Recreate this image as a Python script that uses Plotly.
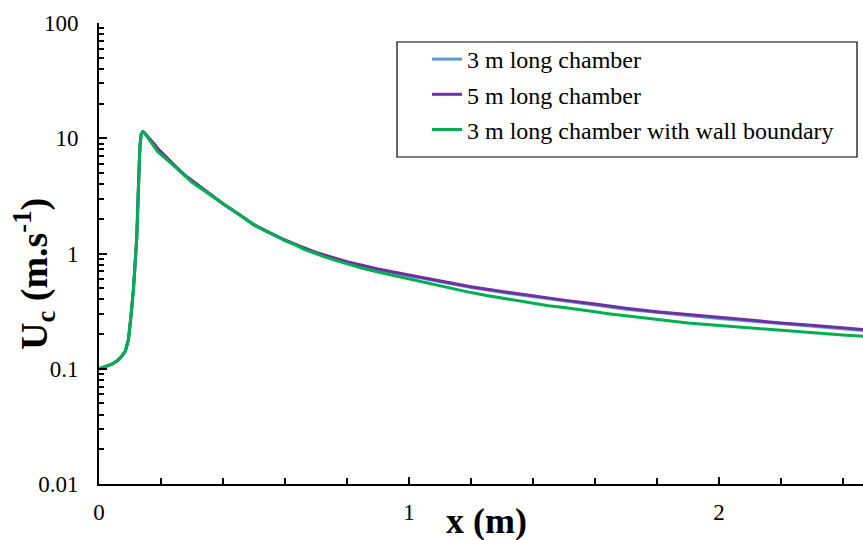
import plotly.graph_objects as go

# ---- data ----
x_main = [0, 0.02, 0.04, 0.06, 0.075, 0.085, 0.095, 0.103, 0.111, 0.118, 0.122, 0.127, 0.132,
          0.136, 0.141, 0.146, 0.15, 0.16, 0.17, 0.18, 0.19, 0.202, 0.22, 0.25, 0.28, 0.31,
          0.35, 0.40, 0.45, 0.50, 0.55, 0.60, 0.65, 0.70, 0.80, 0.90, 1.00, 1.10, 1.20, 1.30,
          1.40, 1.50, 1.60, 1.70, 1.80, 1.90, 2.00, 2.10, 2.20, 2.30, 2.40, 2.47]

u_5m = [0.100, 0.104, 0.109, 0.118, 0.130, 0.142, 0.179, 0.285, 0.486, 0.95, 1.4, 3.6, 8.5,
        10.8, 11.4, 11.2, 10.9, 10.2, 9.5, 8.8, 8.1, 7.5, 6.7, 5.6, 4.7, 4.1,
        3.4, 2.7, 2.2, 1.78, 1.52, 1.31, 1.15, 1.02, 0.85, 0.735, 0.65, 0.575, 0.515, 0.468,
        0.428, 0.394, 0.364, 0.335, 0.313, 0.295, 0.279, 0.264, 0.250, 0.238, 0.226, 0.218]

u_3m = [0.100, 0.104, 0.109, 0.118, 0.130, 0.142, 0.179, 0.285, 0.486, 0.95, 1.4, 3.6, 8.5,
        10.8, 11.4, 11.2, 10.9, 10.2, 9.5, 8.8, 8.1, 7.5, 6.7, 5.6, 4.7, 4.1,
        3.4, 2.7, 2.2, 1.77, 1.51, 1.30, 1.14, 1.01, 0.84, 0.725, 0.64, 0.566, 0.507, 0.460,
        0.421, 0.387, 0.357, 0.329, 0.307, 0.289, 0.273, 0.259, 0.245, 0.233, 0.222, 0.214]

x_wall = [0, 0.02, 0.04, 0.06, 0.075, 0.085, 0.095, 0.103, 0.111, 0.118, 0.122, 0.127, 0.132,
          0.136, 0.141, 0.146, 0.15, 0.16, 0.17, 0.18, 0.19, 0.20, 0.21, 0.22, 0.25, 0.28,
          0.30, 0.33, 0.36, 0.40, 0.43, 0.46, 0.50, 0.53, 0.56, 0.60, 0.63, 0.66, 0.70, 0.73,
          0.76, 0.80, 0.85, 0.90, 0.95, 1.00, 1.05, 1.10, 1.15, 1.20, 1.25, 1.30, 1.35, 1.40,
          1.45, 1.50, 1.55, 1.60, 1.65, 1.70, 1.75, 1.80, 1.85, 1.90, 1.95, 2.00, 2.05, 2.10,
          2.15, 2.20, 2.25, 2.30, 2.35, 2.40, 2.47]

u_wall = [0.100, 0.104, 0.109, 0.118, 0.130, 0.142, 0.179, 0.285, 0.486, 0.95, 1.4, 3.6, 8.5,
          10.8, 11.4, 11.2, 10.8, 10.0, 9.1, 8.3, 7.6, 7.2, 6.9, 6.5, 5.5, 4.65,
          4.15, 3.65, 3.2, 2.68, 2.38, 2.1, 1.77, 1.6, 1.47, 1.29, 1.2, 1.09, 0.99, 0.93,
          0.875, 0.81, 0.745, 0.69, 0.645, 0.60, 0.56, 0.522, 0.485, 0.458, 0.432, 0.410, 0.388, 0.373,
          0.352, 0.340, 0.324, 0.312, 0.299, 0.288, 0.276, 0.266, 0.258, 0.250, 0.243, 0.237, 0.230, 0.225,
          0.219, 0.214, 0.209, 0.205, 0.200, 0.196, 0.191]

y_tickvals = [0.01, 0.1, 1, 10, 100]
y_ticktext = ["0.01", "0.1", "1", "10", "100"]
x_tickvals = [0, 1, 2]
x_ticktext = ["0", "1", "2"]

names = ["3 m long chamber", "5 m long chamber", "3 m long chamber with wall boundary"]
colors = ["#5B9BD5", "#7030A0", "#00B050"]
x_title = "<b>x (m)</b>"
y_title = "<b>U<sub>c</sub> (m.s<sup>-1</sup>)</b>"

FONT = "Liberation Serif"

fig = go.Figure()
for i, (xs, ys) in enumerate([(x_main, u_3m), (x_main, u_5m), (x_wall, u_wall)]):
    fig.add_trace(go.Scatter(x=xs, y=ys, mode="lines", name=names[i],
                             legendgroup=f"g{i}",
                             line=dict(color=colors[i], width=3)))

# legend frame (drawn as a shape so its padding matches the reference)
fig.add_shape(type="rect", xref="paper", yref="paper",
              x0=(397 - 99) / 764, x1=(857 - 99) / 764,
              y0=(484 - 157) / 461, y1=(484 - 42) / 461,
              line=dict(color="black", width=1.2), fillcolor="white", layer="below")

fig.add_annotation(text=x_title, xref="paper", yref="paper",
                   x=(486.5 - 99) / 764, y=(484 - 521) / 461,
                   xanchor="center", yanchor="middle", showarrow=False,
                   font=dict(family=FONT, size=36, color="black"))
fig.add_annotation(text=y_title, xref="paper", yref="paper",
                   x=(34 - 99) / 764, y=(484 - 274) / 461, textangle=-90,
                   xanchor="center", yanchor="middle", showarrow=False,
                   font=dict(family=FONT, size=38, color="black"))

fig.update_layout(
    width=863, height=540,
    margin=dict(l=99, r=0, t=23, b=56),
    paper_bgcolor="white", plot_bgcolor="white",
    font=dict(family=FONT, size=23, color="black"),
    showlegend=True,
    legend=dict(x=(427 - 99) / 764, y=(484 - 37) / 461, xanchor="left", yanchor="top",
                borderwidth=0, bgcolor="rgba(0,0,0,0)",
                font=dict(family=FONT, size=24, color="black"),
                tracegroupgap=1),
    xaxis=dict(range=[0, 2.4645], showgrid=False, zeroline=False, automargin=False,
               showline=True, linecolor="black", linewidth=2,
               tickmode="array", tickvals=x_tickvals, ticktext=x_ticktext,
               ticks="inside", ticklen=7, tickwidth=1.5, tickcolor="black",
               ticklabelstandoff=6,
               minor=dict(ticks="inside", ticklen=6, tickwidth=1.5, tickcolor="black",
                          dtick=0.2, tick0=0, showgrid=False),
               tickfont=dict(family=FONT, size=23)),
    yaxis=dict(type="log", range=[-2, 2], showgrid=False, zeroline=False, automargin=False,
               showline=True, linecolor="black", linewidth=2,
               tickmode="array", tickvals=y_tickvals, ticktext=y_ticktext,
               ticks="inside", ticklen=8, tickwidth=1.5, tickcolor="black",
               ticklabelstandoff=14,
               minor=dict(ticks="inside", ticklen=5, tickwidth=1.5, tickcolor="black",
                          dtick="D1", showgrid=False),
               tickfont=dict(family=FONT, size=23)),
)

fig.write_html("out.html")
